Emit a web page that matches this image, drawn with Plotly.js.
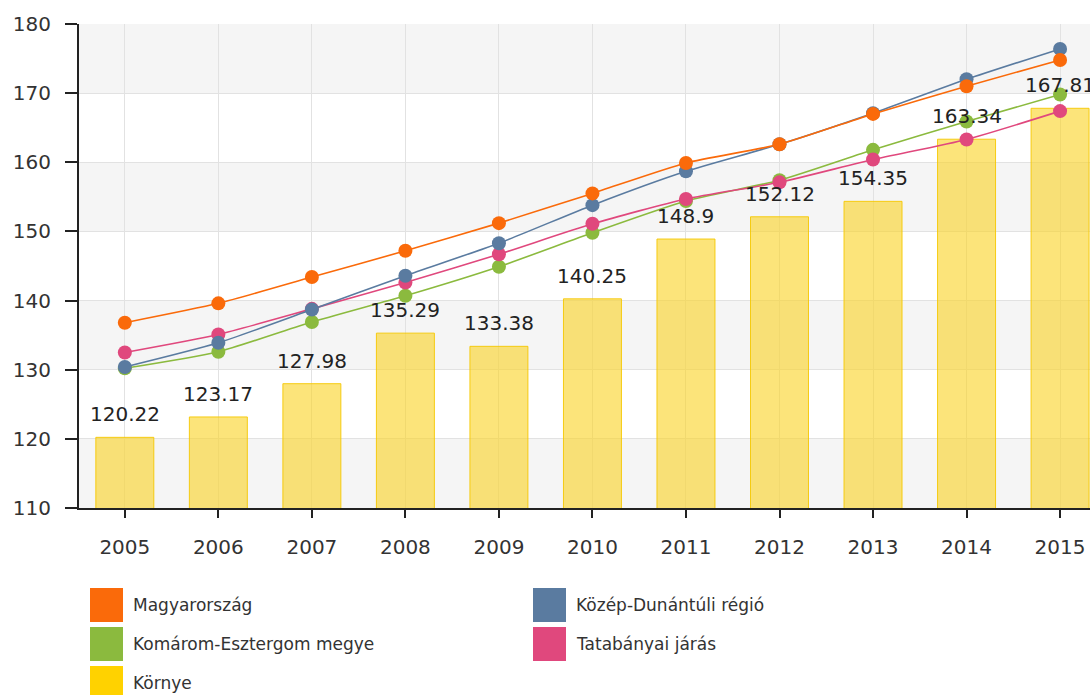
<!DOCTYPE html>
<html>
<head>
<meta charset="utf-8">
<script src="https://cdn.plot.ly/plotly-3.0.1.min.js"></script>
<style>html,body{margin:0;padding:0;background:#fff;}#chart{width:1090px;height:695px;}</style>
</head>
<body>
<div id="chart"></div>
<script>
const years = ["2005","2006","2007","2008","2009","2010","2011","2012","2013","2014","2015"];
const kornye = [120.22,123.17,127.98,135.29,133.38,140.25,148.9,152.12,154.35,163.34,167.81];
const magyarorszag = [136.8,139.6,143.4,147.2,151.2,155.5,159.9,162.6,167.0,171.0,174.8];
const kozepDunantul = [130.4,133.9,138.7,143.6,148.3,153.8,158.7,162.6,167.1,172.0,176.4];
const komarom = [130.2,132.6,136.9,140.7,144.9,149.8,154.4,157.4,161.8,165.9,169.8];
const tatabanya = [132.5,135.1,138.8,142.6,146.7,151.1,154.7,157.1,160.4,163.3,167.4];

const names = ["Magyarország","Közép-Dunántúli régió","Komárom-Esztergom megye","Tatabányai járás","Környe"];
const colors = ["#FA6A0A","#5A7BA0","#8BBA3E","#E0487D","#FFD200"];

const lineSeries = [magyarorszag, kozepDunantul, komarom, tatabanya];
const lineOrder = [2,3,1,0]; // draw order
const traces = [{
  type:'bar', x: years, y: kornye, name: names[4],
  marker:{color:'rgba(250,212,40,0.62)', line:{color:'rgba(245,200,0,0.9)', width:1}},
  width:0.62, showlegend:false, hoverinfo:'x+y'
}];
lineOrder.forEach(i => {
  traces.push({
    type:'scatter', mode:'lines+markers', x: years, y: lineSeries[i], name: names[i],
    line:{color: colors[i], width:1.6, shape:'spline', smoothing:0.6},
    marker:{color: colors[i], size:14},
    showlegend:false, cliponaxis:false
  });
});

const shapes = [];
// alternating bands
for (let v = 110; v < 180; v += 20) {
  shapes.push({type:'rect', xref:'paper', yref:'y', x0:0, x1:1, y0:v, y1:v+10,
    fillcolor:'#F5F5F5', line:{width:0}, layer:'below'});
}
const annotations = kornye.map((v,i) => ({
  x: i, y: v, xref:'x', yref:'y', text: String(v), showarrow:false,
  yanchor:'bottom', yshift:9, font:{family:'DejaVu Sans', size:20, color:'#222'}
}));

// custom legend
const legendItems = [
  {idx:0, col:0, row:0}, {idx:1, col:1, row:0},
  {idx:2, col:0, row:1}, {idx:3, col:1, row:1},
  {idx:4, col:0, row:2}
];
const plotH = 484, plotW = 1011;
legendItems.forEach(it => {
  const sx = it.col === 0 ? 90 : 533;
  const cy = 605 + it.row * 39;
  shapes.push({type:'rect', xref:'paper', yref:'paper',
    x0:(sx-79)/plotW, x1:(sx+33-79)/plotW,
    y0:(508-(cy-17))/plotH, y1:(508-(cy+17))/plotH,
    fillcolor: colors[it.idx], line:{width:0}});
  annotations.push({xref:'paper', yref:'paper', x:(sx+41-79)/plotW, y:(508-cy)/plotH,
    xanchor:'left', yanchor:'middle', showarrow:false, text:names[it.idx],
    font:{family:'DejaVu Sans', size:17, color:'#333'}});
});

const layout = {
  width:1090, height:695,
  margin:{l:79, r:0, t:24, b:187},
  paper_bgcolor:'#fff', plot_bgcolor:'#fff',
  showlegend:false,
  barmode:'overlay',
  xaxis:{type:'category', range:[-0.49,10.32], showgrid:true, gridcolor:'#E2E2E2', gridwidth:1,
    ticks:'outside', ticklen:8, tickwidth:2, tickcolor:'#222', showline:true, linecolor:'#222', linewidth:2,
    ticklabelstandoff:12, tickfont:{family:'DejaVu Sans', size:20, color:'#333'}, zeroline:false, fixedrange:true},
  yaxis:{range:[110,180], dtick:10, tick0:110, showgrid:true, gridcolor:'#E2E2E2', gridwidth:1,
    ticks:'outside', ticklen:12, tickwidth:2, tickcolor:'#222', showline:true, linecolor:'#222', linewidth:2,
    ticklabelstandoff:10, tickfont:{family:'DejaVu Sans', size:20, color:'#333'}, zeroline:false, fixedrange:true},
  shapes: shapes,
  annotations: annotations
};
Plotly.newPlot('chart', traces, layout, {displayModeBar:false, staticPlot:true});
</script>
</body>
</html>
